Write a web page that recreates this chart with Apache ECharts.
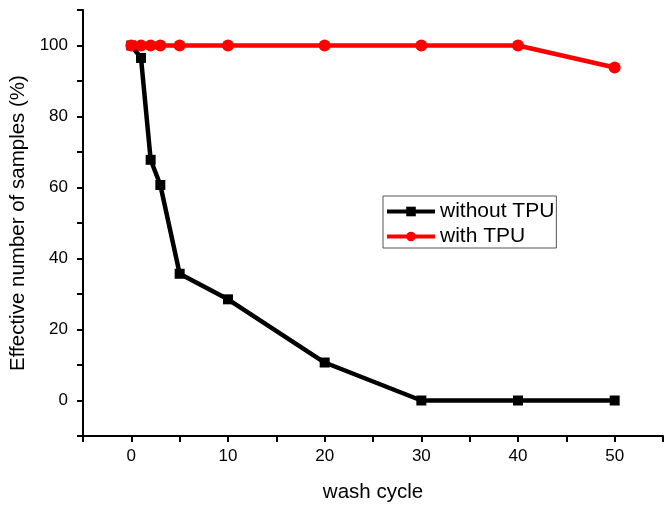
<!DOCTYPE html>
<html><head><meta charset="utf-8">
<script src="https://cdn.jsdelivr.net/npm/echarts@6/dist/echarts.min.js"></script>
<style>html,body{margin:0;padding:0;background:#fff}#c{width:672px;height:510px}</style>
</head><body><div id="c"></div>
<script>
const xWithout = [0, 1, 2, 3, 5, 10, 20, 30, 40, 50];
const yWithout = [100, 96.5, 67.8, 60.7, 35.7, 28.5, 10.7, 0, 0, 0];
const xWith = [0, 1, 2, 3, 5, 10, 20, 30, 40, 50];
const yWith = [100, 100, 100, 100, 100, 100, 100, 100, 100, 93.8];
const seriesNames = ['without TPU', 'with TPU'];
const xTickLabels = [0, 10, 20, 30, 40, 50];
const yTickLabels = [0, 20, 40, 60, 80, 100];

const font = 'Liberation Sans, Arial, sans-serif';
const chart = echarts.init(document.getElementById('c'));
chart.setOption({
  animation: false,
  backgroundColor: '#fff',
  grid: {left: 83, right: 9, top: 10, bottom: 74, containLabel: false, outerBoundsMode: 'none'},
  legend: {
    data: seriesNames,
    orient: 'vertical',
    left: 383, top: 196,
    itemWidth: 48, itemHeight: 12, itemGap: 4,
    lineStyle: {width: 4},
    borderColor: '#555', borderWidth: 1, padding: [5, 2, 1, 2],
    textStyle: {fontFamily: font, fontSize: 21, color: '#000', padding: [0, 0, 0, 0]}
  },
  xAxis: {
    type: 'value', min: -5, max: 55, interval: 5,
    name: 'wash cycle', nameLocation: 'middle', nameGap: 46,
    nameTextStyle: {fontFamily: font, fontSize: 20.5, color: '#000'},
    axisLine: {onZero: false, lineStyle: {color: '#000', width: 2}},
    axisTick: {show: true, inside: false, length: 6, lineStyle: {color: '#000', width: 2}},
    axisLabel: {fontFamily: font, fontSize: 17, color: '#000', margin: 12,
      formatter: v => xTickLabels.includes(v) ? String(v) : ''},
    splitLine: {show: false}
  },
  yAxis: {
    type: 'value', min: -10, max: 110, interval: 10,
    name: 'Effective number of samples (%)', nameLocation: 'middle', nameGap: 54,
    nameTextStyle: {fontFamily: font, fontSize: 20.5, color: '#000'},
    axisLine: {show: true, onZero: false, lineStyle: {color: '#000', width: 2}},
    axisTick: {show: true, inside: false, length: 6, lineStyle: {color: '#000', width: 2}},
    axisLabel: {fontFamily: font, fontSize: 17, color: '#000', margin: 15,
      formatter: v => yTickLabels.includes(v) ? String(v) : ''},
    splitLine: {show: false}
  },
  series: [
    {
      name: seriesNames[0], type: 'line',
      data: xWithout.map((x, i) => [x, yWithout[i]]),
      symbol: 'rect', symbolSize: 10,
      lineStyle: {color: '#000', width: 4.5},
      itemStyle: {color: '#000'},
      z: 2
    },
    {
      name: seriesNames[1], type: 'line',
      data: xWith.map((x, i) => [x, yWith[i]]),
      symbol: 'circle', symbolSize: 12,
      lineStyle: {color: '#ff0000', width: 4.5},
      itemStyle: {color: '#ff0000'},
      z: 3
    }
  ]
});
</script></body></html>
